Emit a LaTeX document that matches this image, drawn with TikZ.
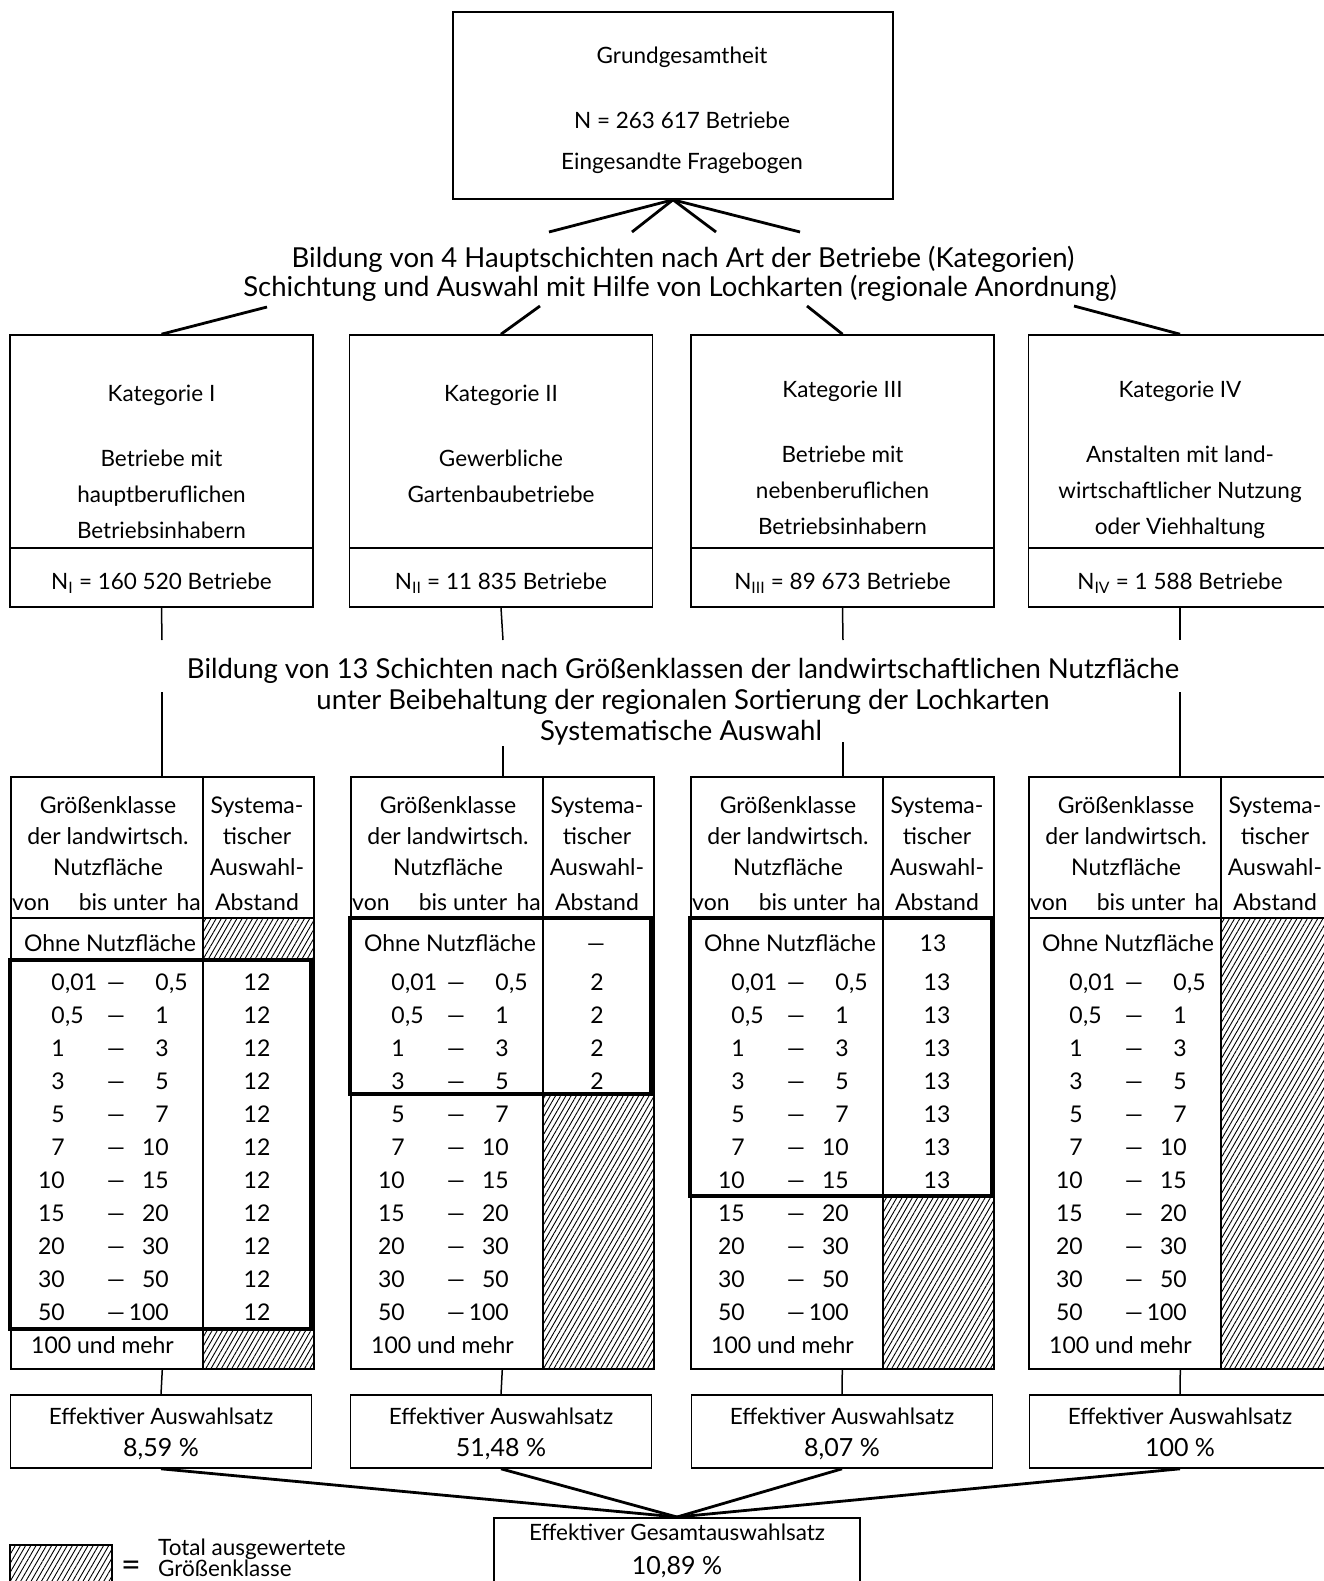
\documentclass[tikz,border=0pt]{standalone}
\usepackage{fontspec}
\setmainfont{Lato}
\usetikzlibrary{patterns.meta}
\tikzset{box/.style={draw, line width=1.6pt, inner sep=0pt}}
\tikzset{fett/.style={line width=4pt}}
\tikzset{verb/.style={line width=2.8pt}}
\tikzset{stiel/.style={line width=1.5pt}}
\tikzset{schraffur/.style={pattern={Lines[angle=60,distance=4.5pt,line width=0.9pt]}}}
\tikzset{gross/.style={font=\fontsize{27.5}{30}\selectfont, inner sep=0pt, anchor=base}}
\tikzset{proz/.style={font=\fontsize{25}{28}\selectfont, inner sep=0pt, anchor=base}}
\tikzset{txt/.style={font=\fontsize{22.5}{26}\selectfont, inner sep=0pt, anchor=base}}
\tikzset{tab/.style={font=\fontsize{23}{26}\selectfont, inner sep=0pt, anchor=base}}

\begin{document}
\begin{tikzpicture}[x=1pt,y=-1pt]
\useasboundingbox (0,0) rectangle (1324,1581);

% Grundgesamtheit
\node[box, minimum width=440pt, minimum height=187pt] (grund) at (673,105.5) {};
\node[txt] at (682,64) {Grundgesamtheit};
\node[txt] at (682,129) {N = 263 617 Betriebe};
\node[txt] at (682,170) {Eingesandte Fragebogen};

% Hauptschichten
\node[gross] (haupt1) at (683,267) {Bildung von 4 Hauptschichten nach Art der Betriebe (Kategorien)};
\node[gross] (haupt2) at (680,296) {Schichtung und Auswahl mit Hilfe von Lochkarten (regionale Anordnung)};
\foreach \x [count=\i] in {549,632,716,800}
  \draw[verb] (grund.south) -- (\x,232) coordinate (f\i);

% Kategorien
\foreach \x/\dy/\kt/\ta/\tb/\tc/\nz [count=\i] in {
  161.5/0/I/{Betriebe mit}/{hauptberuflichen}/{Betriebsinhabern}/{N\textsubscript{I} = 160 520 Betriebe},
  501/0/II/{Gewerbliche}/{Gartenbaubetriebe}/{}/{N\textsubscript{II} = 11 835 Betriebe},
  842.5/-4/III/{Betriebe mit}/{nebenberuflichen}/{Betriebsinhabern}/{N\textsubscript{III} = 89 673 Betriebe},
  1180/-4/IV/{Anstalten mit land-}/{wirtschaftlicher Nutzung}/{oder Viehhaltung}/{N\textsubscript{IV} = 1 588 Betriebe}} {
  \node[box, minimum width=303pt, minimum height=272pt] (kat\i) at (\x,471) {};
  \draw[stiel] (\x-151.5,548) -- (\x+151.5,548);
  \node[txt] at (\x,401+\dy) {Kategorie \kt};
  \node[txt] at (\x,466+\dy) {\ta};
  \node[txt] at (\x,502+\dy) {\tb};
  \node[txt] at (\x,538+\dy) {\tc};
  \node[txt] at (\x,589) {\nz};
}
\foreach \x/\y [count=\i] in {267/307, 540/306, 807/306, 1074/306}
  \draw[verb] (\x,\y) coordinate (s\i) -- (kat\i.north);

% Schichtung nach Groessenklassen
\node[gross] (schicht1) at (683,678) {Bildung von 13 Schichten nach Größenklassen der landwirtschaftlichen Nutzfläche};
\node[gross] (schicht2) at (683,709) {unter Beibehaltung der regionalen Sortierung der Lochkarten};
\node[gross] (schicht3) at (681,740) {Systematische Auswahl};

% Tabellen
\foreach \lx/\wert/\anz [count=\i] in {10/12/11, 350/2/4, 690/13/7, 1028/0/0} {
  \node[box, anchor=north west, minimum width=303pt, minimum height=592pt] (tab\i) at (\lx,776) {};
  \draw[stiel] (\lx+193,776) -- (\lx+193,1368);
  \draw[stiel] (\lx,918) -- (\lx+303,918);
  \node[tab] at (\lx+98,813) {Größenklasse};
  \node[tab] at (\lx+98,844) {der landwirtsch.};
  \node[tab] at (\lx+98,875) {Nutzfläche};
  \node[tab, anchor=base west] at (\lx+2,910) {von};
  \node[tab] at (\lx+113,910) {bis unter};
  \node[tab, anchor=base east] at (\lx+191,910) {ha};
  \node[tab] at (\lx+247,813) {Systema-};
  \node[tab] at (\lx+247,844) {tischer};
  \node[tab] at (\lx+247,875) {Auswahl-};
  \node[tab] at (\lx+247,910) {Abstand};
  \node[tab] at (\lx+100,951) {Ohne Nutzfläche};
  \foreach \za/\zb/\zc/\zd [count=\j] in {0/{,01}/0/{,5}, 0/{,5}/1/{}, 1/{}/3/{}, 3/{}/5/{},
      5/{}/7/{}, 7/{}/10/{}, 10/{}/15/{}, 15/{}/20/{}, 20/{}/30/{}, 30/{}/50/{}, 50/{}/100/{}} {
    \node[tab, anchor=base east] at (\lx+55,957+33*\j) {\za};
    \node[tab, anchor=base west] at (\lx+55,957+33*\j) {\zb};
    \node[tab] at (\lx+106,957+33*\j) {—};
    \node[tab, anchor=base east] at (\lx+159,957+33*\j) {\zc};
    \node[tab, anchor=base west] at (\lx+159,957+33*\j) {\zd};
    \ifnum\j>\anz\else\node[tab] at (\lx+247,957+33*\j) {\wert};\fi
  }
  \node[tab, anchor=base west] at (\lx+21,1353) {100 und mehr};
}
\node[tab] at (596,951) {—};
\node[tab] at (933,951) {13};

% total ausgewertete Groessenklassen
\fill[schraffur] (203,918) rectangle (313,960);
\fill[schraffur] (203,1329) rectangle (313,1368);
\fill[schraffur] (543,1094) rectangle (653,1368);
\fill[schraffur] (883,1196) rectangle (993,1368);
\fill[schraffur] (1221,918) rectangle (1331,1368);

% Auswahlbereiche
\draw[fett] (10,960) rectangle (311,1329);
\draw[fett] (350,918) rectangle (651,1094);
\draw[fett] (690,918) rectangle (992,1196);

\foreach \x/\y [count=\i] in {162/692, 503/746, 843/742, 1180/692} {
  \draw[stiel] (kat\i.south) -- (\x,640) coordinate (u\i);
  \draw[stiel] (\x,\y) coordinate (v\i) -- (v\i |- tab\i.north);
}

% Auswahlsaetze
\node[box, minimum width=366pt, minimum height=100pt, anchor=north] (gesamt) at (677,1517) {};
\node[txt] at (677,1540) {Effektiver Gesamtauswahlsatz};
\node[proz] at (677,1574) {10,89 \%};
\foreach \x/\p [count=\i] in {161/{8,59}, 501/{51,48}, 842/{8,07}, 1180/{100}} {
  \node[box, minimum width=301pt, minimum height=73pt] (eff\i) at (\x,1431.5) {};
  \node[txt] at (\x,1424) {Effektiver Auswahlsatz};
  \node[proz] at (\x,1456) {\p~\%};
  \draw[stiel] (tab\i.south) -- (eff\i.north);
  \draw[verb] (eff\i.south) -- (gesamt.north);
}

% Legende
\filldraw[schraffur, line width=1.5pt] (10,1545) rectangle (112,1590);
\node[gross, font=\fontsize{34}{34}\selectfont] (gleich) at (131,1576) {=};
\node[txt, anchor=base west] at (158,1555) {Total ausgewertete};
\node[txt, anchor=base west] at (158,1576) {Größenklasse};
\end{tikzpicture}
\end{document}
